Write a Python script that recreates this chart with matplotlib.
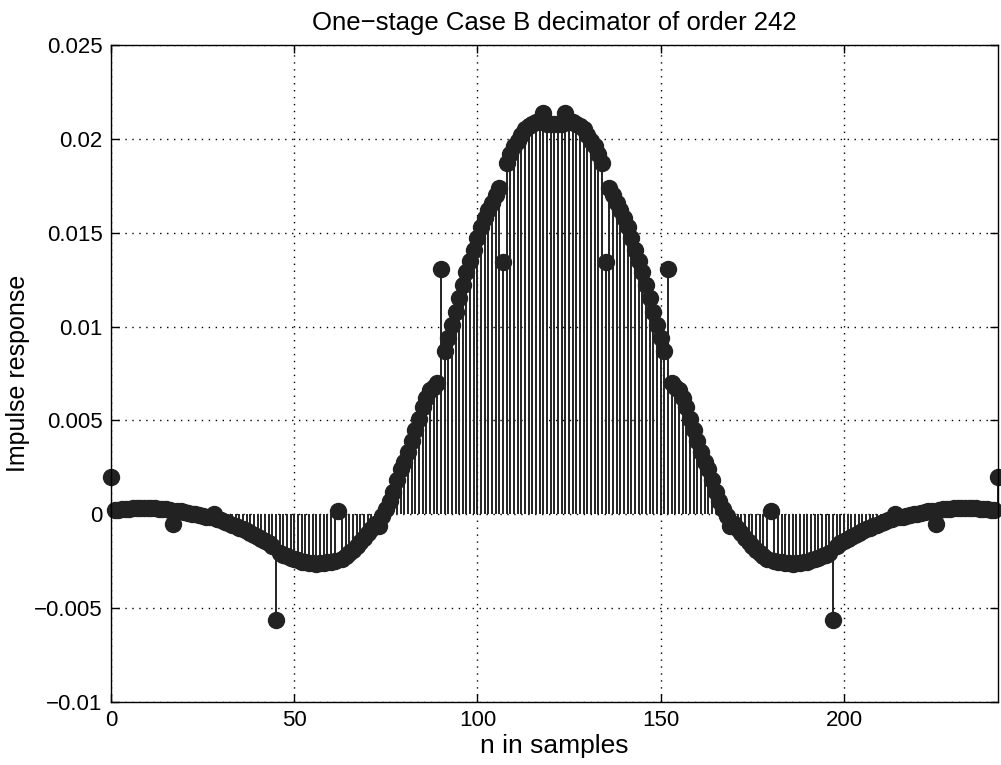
import matplotlib
matplotlib.use("Agg")
import matplotlib.pyplot as plt
import numpy as np

# impulse response, first half n = 0..121 (filter is symmetric, h[n] = h[242-n])
h_half = [
    0.0020,                                                    # 0
    0.00021, 0.00024, 0.00026, 0.00028, 0.00030, 0.00031,
    0.00032, 0.00033, 0.00033, 0.00033, 0.00032, 0.00031,
    0.00030, 0.00028, 0.00026, 0.00023,                        # 1-16
    -0.00053,                                                  # 17
    0.00018, 0.00015, 0.00011, 0.00007, 0.00003, -0.00001,
    -0.00005, -0.00009, -0.00013, -0.00017,                    # 18-27
    0.00004,                                                   # 28
    -0.00027, -0.00033, -0.00040, -0.00047, -0.00055, -0.00063,
    -0.00071, -0.00080, -0.00089, -0.00099, -0.00109, -0.00120,
    -0.00131, -0.00143, -0.00155, -0.00168,                    # 29-44
    -0.00564,                                                  # 45
    -0.00205, -0.00215, -0.00224, -0.00232, -0.00240, -0.00246,
    -0.00252, -0.00257, -0.00260, -0.00262, -0.00263, -0.00262,
    -0.00260, -0.00257, -0.00253, -0.00248,                    # 46-61
    0.00018,                                                   # 62
    -0.00236, -0.00222, -0.00206, -0.00188, -0.00168, -0.00147,
    -0.00125, -0.00102, -0.00078, -0.00054,                    # 63-72
    -0.00062,                                                  # 73
    -0.0001, 0.0003, 0.0007, 0.0012, 0.0018, 0.0024,
    0.0028, 0.0033, 0.0039, 0.0045, 0.0051, 0.0057,
    0.0062, 0.0066, 0.0068, 0.0070,                            # 74-89
    0.01307,                                                   # 90
    0.0087, 0.0094, 0.0101, 0.0108, 0.0115, 0.0122,
    0.0129, 0.0135, 0.0141, 0.0147, 0.0153, 0.0158,
    0.0162, 0.0166, 0.0170, 0.0174,                            # 91-106
    0.01346,                                                   # 107
    0.0187, 0.0192, 0.0196, 0.0199, 0.0202, 0.0205,
    0.0207, 0.0208, 0.0209, 0.0209,                            # 108-117
    0.0214,                                                    # 118
    0.0208, 0.0208, 0.0208,                                    # 119-121
]
assert len(h_half) == 122

h = np.array(h_half + h_half[:-1][::-1])
n = np.arange(len(h))

yticks = [-0.01, -0.005, 0, 0.005, 0.01, 0.015, 0.02, 0.025]
ytick_labels = ['\u22120.01', '\u22120.005', '0', '0.005', '0.01', '0.015', '0.02', '0.025']
xticks = [0, 50, 100, 150, 200]

plt.rcParams['font.family'] = ['Liberation Sans', 'DejaVu Sans']
plt.rcParams['font.size'] = 15

fig = plt.figure(figsize=(10.01, 7.65), dpi=100)
ax = fig.add_axes([0.1109, 0.0824, 0.886, 0.8588])

col = '#222222'
markerline, stemlines, baseline = ax.stem(n, h, linefmt='-', markerfmt='o', basefmt=' ')
stemlines.set_color(col)
stemlines.set_linewidth(1.4)
markerline.set_color(col)
markerline.set_markersize(11.5)
markerline.set_clip_on(False)

ax.set_xlim(0, 242)
ax.set_ylim(-0.01, 0.025)
ax.set_xticks(xticks)
ax.set_xticklabels([str(t) for t in xticks])
ax.set_yticks(yticks)
ax.set_yticklabels(ytick_labels)
ax.tick_params(direction='in', length=6, width=1, pad=6, top=True, right=True, labelsize=16)
ax.grid(True, color='black', linestyle=(0, (1, 4)), linewidth=1)
for s in ax.spines.values():
    s.set_linewidth(1)

ax.set_xlabel('n in samples', fontsize=19, labelpad=2)
ax.set_ylabel('Impulse response', fontsize=18, labelpad=3)
ax.set_title('One\u2212stage Case B decimator of order 242', fontsize=18.5, pad=11)

fig.savefig('out.png', dpi=100)
